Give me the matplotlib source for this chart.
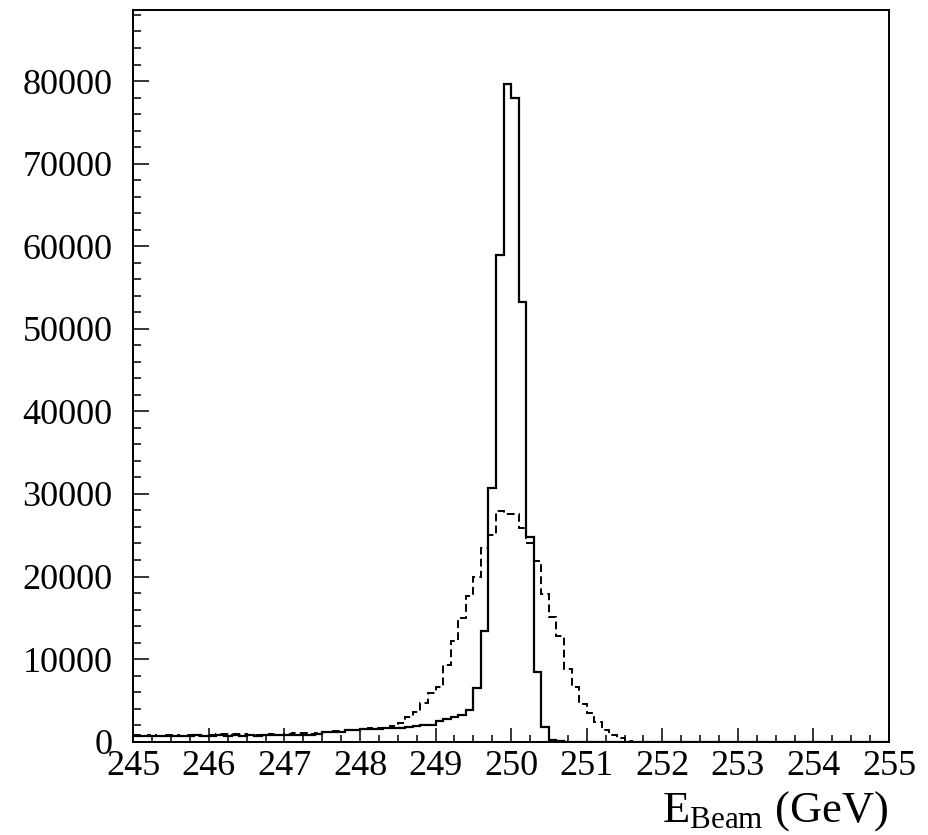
import numpy as np
import matplotlib
matplotlib.use("Agg")
import matplotlib.pyplot as plt

plt.rcParams['font.family'] = ['Liberation Serif', 'DejaVu Serif']
plt.rcParams['mathtext.fontset'] = 'custom'
plt.rcParams['mathtext.rm'] = 'Liberation Serif'
plt.rcParams['mathtext.it'] = 'Liberation Serif:italic'

# bin edges: 245 .. 255 GeV in 0.1 GeV bins
x_min, x_max, bin_w = 245.0, 255.0, 0.1

# solid histogram (bins starting 245.0, 245.1, ...)
solid = [
    700, 650, 720, 680, 700, 730, 690, 700, 760, 720,          # 245.x
    740, 760, 730, 780, 750, 760, 720, 780, 800, 770,          # 246.x
    830, 820, 850, 870, 880, 1150, 1180, 1200, 1380, 1400,     # 247.x
    1500, 1520, 1550, 1620, 1650, 1680, 1750, 1950, 2000, 2050,  # 248.x
    2500, 2710, 2950, 3230, 3840, 6460, 13440, 30680, 58920, 79630,  # 249.x
    77970, 53270, 24820, 8440, 1740, 200, 30, 0, 0, 0,          # 250.x
    0, 0, 0, 0, 0, 0, 0, 0, 0, 0,                               # 251.x
    0, 0, 0, 0, 0, 0, 0, 0, 0, 0,                               # 252.x
    0, 0, 0, 0, 0, 0, 0, 0, 0, 0,                               # 253.x
    0, 0, 0, 0, 0, 0, 0, 0, 0, 0,                               # 254.x
]

# dashed histogram
dashed = [
    800, 700, 850, 700, 780, 800, 700, 820, 700, 750,           # 245.x
    820, 880, 900, 950, 880, 820, 850, 780, 900, 800,           # 246.x
    950, 1000, 1100, 950, 1000, 1200, 1250, 1250, 1450, 1450,   # 247.x
    1550, 1600, 1650, 1620, 1900, 2300, 2950, 3560, 4650, 5860,  # 248.x
    6590, 9290, 12190, 14940, 17640, 19980, 23410, 25020, 27930, 27570,  # 249.x
    27530, 25840, 24090, 21880, 17890, 15130, 12800, 8800, 6680, 4530,   # 250.x
    3510, 2420, 1420, 810, 410, 100, 0, 0, 0, 0,                # 251.x
    0, 0, 0, 0, 0, 0, 0, 0, 0, 0,                               # 252.x
    0, 0, 0, 0, 0, 0, 0, 0, 0, 0,                               # 253.x
    0, 0, 0, 0, 0, 0, 0, 0, 0, 0,                               # 254.x
]

x_ticks = list(range(245, 256))
y_ticks = list(range(0, 80001, 10000))
y_top = 88600

W, H = 929, 835
fig = plt.figure(figsize=(W / 100, H / 100), dpi=100)
L, R, T, B = 133.3, 889, 10, 741.7
ax = fig.add_axes([L / W, 1 - B / H, (R - L) / W, (B - T) / H])

edges = np.linspace(x_min, x_max, len(solid) + 1)
ax.stairs(np.array(solid), edges, baseline=None, color='black', lw=1.6)
ax.stairs(np.array(dashed), edges, baseline=None, color='black', lw=1.4,
          linestyle=(0, (4, 2.2)))

ax.set_xlim(x_min, x_max)
ax.set_ylim(0, y_top)
ax.set_xticks(x_ticks)
ax.set_xticklabels([str(v) for v in x_ticks])
ax.set_yticks(y_ticks)
ax.set_yticklabels([str(v) for v in y_ticks])
ax.set_xticks(np.arange(x_min, x_max + 0.001, 0.25), minor=True)
ax.set_yticks(np.arange(0, y_top, 2000), minor=True)

ax.tick_params(axis='both', which='both', direction='in', top=False, right=False,
               labelsize=26, width=1.1, color='black')
ax.tick_params(axis='y', which='major', length=11.5, pad=15)
ax.tick_params(axis='y', which='minor', length=5.8)
ax.tick_params(axis='x', which='major', length=10, pad=6)
ax.tick_params(axis='x', which='minor', length=5)
for s in ax.spines.values():
    s.set_linewidth(1.4)

fig.text(888 / W, 1 - 822 / H, r'$\mathrm{E_{Beam}}$ (GeV)', ha='right',
         va='baseline', fontsize=32)

fig.savefig('out.png', dpi=100)
